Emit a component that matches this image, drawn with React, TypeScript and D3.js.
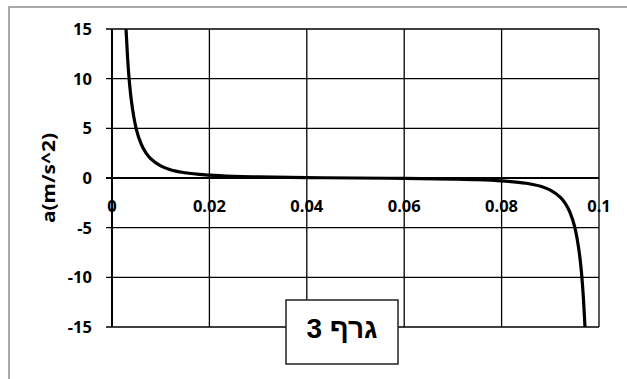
import React from "react";
import * as d3 from "d3";

// Position along the line (m) and acceleration (m/s^2)
const positions = [
  0.00285, 0.0029, 0.0032, 0.0036, 0.004, 0.0045, 0.005, 0.006, 0.007, 0.008,
  0.01, 0.012, 0.015, 0.02, 0.025, 0.03, 0.04, 0.05, 0.06, 0.07, 0.075, 0.08,
  0.085, 0.088, 0.09, 0.092, 0.093, 0.094, 0.095, 0.0955, 0.096, 0.0964,
  0.0968, 0.0971, 0.09715,
];
const accelerations = [
  15.2, 14.8, 12.1, 9.5, 7.7, 6.1, 4.9, 3.4, 2.5, 1.92, 1.22, 0.84, 0.53, 0.29,
  0.17, 0.11, 0.043, 0, -0.043, -0.11, -0.17, -0.29, -0.53, -0.84, -1.22,
  -1.92, -2.5, -3.4, -4.9, -6.1, -7.7, -9.5, -12.1, -14.8, -15.2,
];
const xTicks = [0, 0.02, 0.04, 0.06, 0.08, 0.1];
const xTickLabels = ["0", "0.02", "0.04", "0.06", "0.08", "0.1"];
const yTicks = [15, 10, 5, 0, -5, -10, -15];
const yTitle = "a(m/s^2)";
const graphLabel = "גרף 3";

const W = 627;
const H = 379;
const plot = { left: 112, right: 599, top: 29, bottom: 327 };

export default function App() {
  const x = d3.scaleLinear().domain([0, 0.1]).range([plot.left, plot.right]);
  const y = d3.scaleLinear().domain([-15, 15]).range([plot.bottom, plot.top]);

  const pts: [number, number][] = positions.map((p, i) => [p, accelerations[i]]);
  const line = d3
    .line<[number, number]>()
    .x((d) => x(d[0]))
    .y((d) => y(d[1]))
    .curve(d3.curveMonotoneX);

  const font = "'Noto Sans', 'Open Sans', sans-serif";

  return (
    <svg
      width={W}
      height={H}
      style={{ position: "absolute", left: 0, top: 0, background: "#fff" }}
    >
      <defs>
        <clipPath id="plotClip">
          <rect
            x={plot.left}
            y={plot.top}
            width={plot.right - plot.left}
            height={plot.bottom - plot.top}
          />
        </clipPath>
      </defs>
      {/* chart frame (continues past the right and bottom edges) */}
      <rect x={9} y={7} width={W + 20} height={H + 20} fill="#fff" stroke="#8c8c8c" strokeWidth={1.5} />

      {/* horizontal gridlines + left ticks */}
      {yTicks.map((t) => (
        <line
          key={"h" + t}
          x1={plot.left - 6}
          x2={plot.right}
          y1={y(t)}
          y2={y(t)}
          stroke="#000"
          strokeWidth={t === 0 ? 2 : 1.3}
        />
      ))}
      {/* vertical gridlines */}
      {xTicks.map((t) => (
        <line
          key={"v" + t}
          x1={x(t)}
          x2={x(t)}
          y1={plot.top}
          y2={plot.bottom}
          stroke="#000"
          strokeWidth={t === 0 ? 2 : 1.3}
        />
      ))}

      {/* y tick labels */}
      {yTicks.map((t) => (
        <text
          key={"yl" + t}
          x={92}
          y={y(t) + 6}
          textAnchor="end"
          fontFamily={font}
          fontWeight="bold"
          fontSize={16.5}
          fill="#000"
        >
          {t}
        </text>
      ))}

      {/* x tick labels along the zero line */}
      {xTicks.map((t, i) => (
        <text
          key={"xl" + t}
          x={x(t)}
          y={211.5}
          textAnchor="middle"
          fontFamily={font}
          fontWeight="bold"
          fontSize={16.5}
          fill="#000"
        >
          {xTickLabels[i]}
        </text>
      ))}

      {/* y axis title */}
      <text
        transform={`translate(55, 178) rotate(-90)`}
        textAnchor="middle"
        fontFamily={font}
        fontWeight="bold"
        fontSize={17}
        textLength={90}
        lengthAdjust="spacingAndGlyphs"
        fill="#000"
      >
        {yTitle}
      </text>

      {/* curve */}
      <path
        d={line(pts) ?? ""}
        fill="none"
        stroke="#000"
        strokeWidth={3.2}
        clipPath="url(#plotClip)"
      />

      {/* label box */}
      <rect x={286} y={300} width={112} height={64} fill="#fff" stroke="#222" strokeWidth={1.5} />
      <text
        x={342}
        y={338}
        textAnchor="middle"
        direction="rtl"
        fontFamily="'Liberation Sans', Arial, sans-serif"
        fontWeight="bold"
        fontSize={28}
        fill="#000"
      >
        {graphLabel}
      </text>
    </svg>
  );
}
